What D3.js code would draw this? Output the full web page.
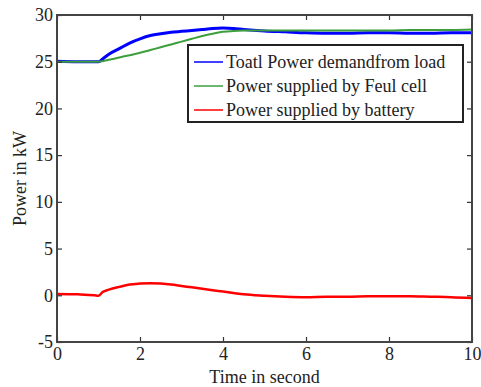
<!DOCTYPE html>
<html>
<head>
<meta charset="utf-8">
<script src="https://cdn.jsdelivr.net/npm/d3@7"></script>
<style>
  body { margin: 0; background: #fff; }
  svg { display: block; }
  text { font-family: 'Liberation Serif', 'Times New Roman', serif; fill: #222; }
</style>
</head>
<body>
<svg width="481" height="387"></svg>
<script>
const time = [0, 0.5, 0.9, 1, 1.1, 1.25, 1.5, 1.75, 2, 2.25, 2.5, 2.75, 3, 3.25, 3.5, 3.75, 4, 4.25, 4.5, 5, 5.5, 6, 6.5, 7, 7.5, 8, 8.5, 9, 9.5, 10];
const demand = [25.05, 25.0, 25.0, 25.0, 25.3, 25.8, 26.4, 27.0, 27.45, 27.8, 28.0, 28.15, 28.25, 28.35, 28.45, 28.55, 28.6, 28.55, 28.45, 28.3, 28.2, 28.1, 28.05, 28.05, 28.1, 28.1, 28.05, 28.05, 28.1, 28.1];
const fuelCell = [25.0, 25.0, 25.0, 25.0, 25.05, 25.2, 25.45, 25.7, 25.95, 26.25, 26.55, 26.85, 27.15, 27.45, 27.75, 28.0, 28.2, 28.3, 28.35, 28.35, 28.35, 28.35, 28.35, 28.35, 28.35, 28.35, 28.4, 28.4, 28.4, 28.45];
const battery = [0.15, 0.1, 0.0, -0.05, 0.35, 0.6, 0.9, 1.15, 1.25, 1.3, 1.25, 1.15, 1.0, 0.85, 0.7, 0.55, 0.4, 0.25, 0.1, -0.05, -0.15, -0.2, -0.15, -0.15, -0.1, -0.1, -0.1, -0.15, -0.2, -0.3];

const seriesNames = ['Toatl Power demandfrom load', 'Power supplied by Feul cell', 'Power supplied by battery'];
const seriesColors = ['#0000ff', '#3c9f3c', '#ff0000'];
const xTicks = [0, 2, 4, 6, 8, 10];
const yTicks = [-5, 0, 5, 10, 15, 20, 25, 30];

let svg = d3.select('svg');

const margin = {top: 15, right: 9, bottom: 45, left: 57},
    width = +svg.attr('width') - margin.left - margin.right,
    height = +svg.attr('height') - margin.top - margin.bottom;

let g = svg.append('g').attr('transform', `translate(${margin.left}, ${margin.top})`);

let x = d3.scaleLinear().domain([0, 10]).range([0, width]),
    y = d3.scaleLinear().domain([-5, 30]).range([height, 0]);

const line = d3.line()
    .x((d) => x(d[0]))
    .y((d) => y(d[1]))
    .curve(d3.curveMonotoneX);

const series = [demand, fuelCell, battery];
const widths = [3, 2, 2.5];

// draw lines
series.forEach((s, i) => {
  g.append('path')
    .attr('d', line(time.map((t, j) => [t, s[j]])))
    .attr('fill', 'none')
    .attr('stroke', seriesColors[i])
    .attr('stroke-width', widths[i])
    .attr('stroke-linejoin', 'round');
});

// axes with inward ticks, matlab style (plain hyphen for minus)
const fmt = (d) => String(d);
const axisStyle = (sel) => {
  sel.select('.domain').remove();
  sel.selectAll('.tick line').attr('stroke', '#333').attr('stroke-width', 1.2);
  sel.selectAll('.tick text').style('font-size', '18px').attr('fill', '#222');
};

g.append('g')
  .attr('transform', `translate(0, ${height})`)
  .call(d3.axisBottom(x).tickValues(xTicks).tickFormat(fmt).tickSizeInner(-5).tickSizeOuter(0).tickPadding(5))
  .call(axisStyle);

g.append('g')
  .call(d3.axisTop(x).tickValues(xTicks).tickSizeInner(-5).tickSizeOuter(0).tickFormat(''))
  .call(axisStyle);

g.append('g')
  .call(d3.axisLeft(y).tickValues(yTicks).tickFormat(fmt).tickSizeInner(-5).tickSizeOuter(0).tickPadding(4))
  .call(axisStyle);

g.append('g')
  .attr('transform', `translate(${width}, 0)`)
  .call(d3.axisRight(y).tickValues(yTicks).tickSizeInner(-5).tickSizeOuter(0).tickFormat(''))
  .call(axisStyle);

// box
g.append('rect')
  .attr('width', width)
  .attr('height', height)
  .attr('fill', 'none')
  .attr('stroke', '#444')
  .attr('stroke-width', 2);

// axis labels
svg.append('text')
  .attr('x', margin.left + width / 2)
  .attr('y', 383)
  .attr('text-anchor', 'middle')
  .style('font-size', '18px')
  .text('Time in second');

svg.append('text')
  .attr('transform', `translate(26, ${margin.top + height / 2}) rotate(-90)`)
  .attr('text-anchor', 'middle')
  .style('font-size', '18px')
  .text('Power in kW');

// legend
let legend = svg.append('g').attr('transform', 'translate(188, 45)');
legend.append('rect')
  .attr('width', 275)
  .attr('height', 77)
  .attr('fill', '#fff')
  .attr('stroke', '#222')
  .attr('stroke-width', 2);

seriesNames.forEach((name, i) => {
  let row = legend.append('g').attr('transform', `translate(0, ${17 + i * 24})`);
  row.append('line')
    .attr('x1', 6).attr('x2', 35)
    .attr('stroke', seriesColors[i])
    .attr('stroke-width', 1.5);
  row.append('text')
    .attr('x', 38)
    .attr('dy', '0.35em')
    .style('font-size', '18px')
    .text(name);
});
</script>
</body>
</html>
